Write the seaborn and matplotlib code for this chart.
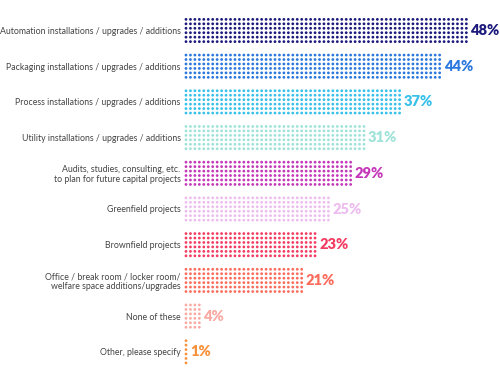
import matplotlib
matplotlib.use("Agg")
import matplotlib.pyplot as plt
import seaborn as sns
import numpy as np
import pandas as pd

categories = [
    "Automation installations / upgrades / additions",
    "Packaging installations / upgrades / additions",
    "Process installations / upgrades / additions",
    "Utility installations / upgrades / additions",
    "Audits, studies, consulting, etc.\nto plan for future capital projects",
    "Greenfield projects",
    "Brownfield projects",
    "Office / break room / locker room/\nwelfare space additions/upgrades",
    "None of these",
    "Other, please specify",
]
values = [48, 44, 37, 31, 29, 25, 23, 21, 4, 1]
value_labels = ["48%", "44%", "37%", "31%", "29%", "25%", "23%", "21%", "4%", "1%"]
colors = ["#1c1a7c", "#2a78de", "#36c0ea", "#9fe2d8", "#c437b8",
          "#ecbdee", "#f33c62", "#fa6c5c", "#f9aaa2", "#f7923c"]

sns.set_theme(style="white")
plt.rcParams['font.family'] = ['Lato', 'DejaVu Sans']

px = 6.02          # pixels per percent
zero_px = 178.0    # pixel position of 0 %
row_px = 35.7      # pixels between bars
# dot-grid geometry (data units: x in %, y in row index)
col_start = (186.0 - zero_px) / px
col_step = 4.45 / px
row_step = 4.45 / row_px
n_rows = 6

rows = []
last_cols = []
for i, (cat, v) in enumerate(zip(categories, values)):
    ncol = max(1, int(np.floor((v - col_start) / col_step + 1e-6)) + 1)
    xs = col_start + col_step * np.arange(ncol)
    last_cols.append(xs[-1])
    for r in range(n_rows):
        dy = (r - (n_rows - 1) / 2) * row_step
        for x in xs:
            rows.append({"x": x, "y": i + dy, "cat": cat})
df = pd.DataFrame(rows)

fig = plt.figure(figsize=(5.0, 3.85), dpi=100)
left_px = 182
ax = fig.add_axes([left_px / 500, 0, (500 - left_px) / 500, 1])

sns.scatterplot(data=df, x="x", y="y", hue="cat", hue_order=categories,
                palette=colors, marker="o", s=4.0, linewidth=0,
                legend=False, ax=ax)

x0 = (left_px - zero_px) / px
ax.set_xlim(x0, x0 + (500 - left_px) / px)
ax.set_ylim((385 - 30.5) / row_px, -30.5 / row_px)

for i, (lab, c, lc) in enumerate(zip(value_labels, colors, last_cols)):
    ax.text(lc + 4.0 / px, i, lab, color=c, fontsize=10.5, fontweight="heavy",
            va="center", ha="left")

ax.set_yticks(range(len(categories)))
ax.set_yticklabels(categories, fontsize=6.3, color="#444444",
                   linespacing=1.15)
ax.tick_params(axis="y", length=0, pad=1)
ax.set_xticks([])
ax.set_xlabel("")
ax.set_ylabel("")
for s in ax.spines.values():
    s.set_visible(False)

fig.savefig("out.png", dpi=100)
